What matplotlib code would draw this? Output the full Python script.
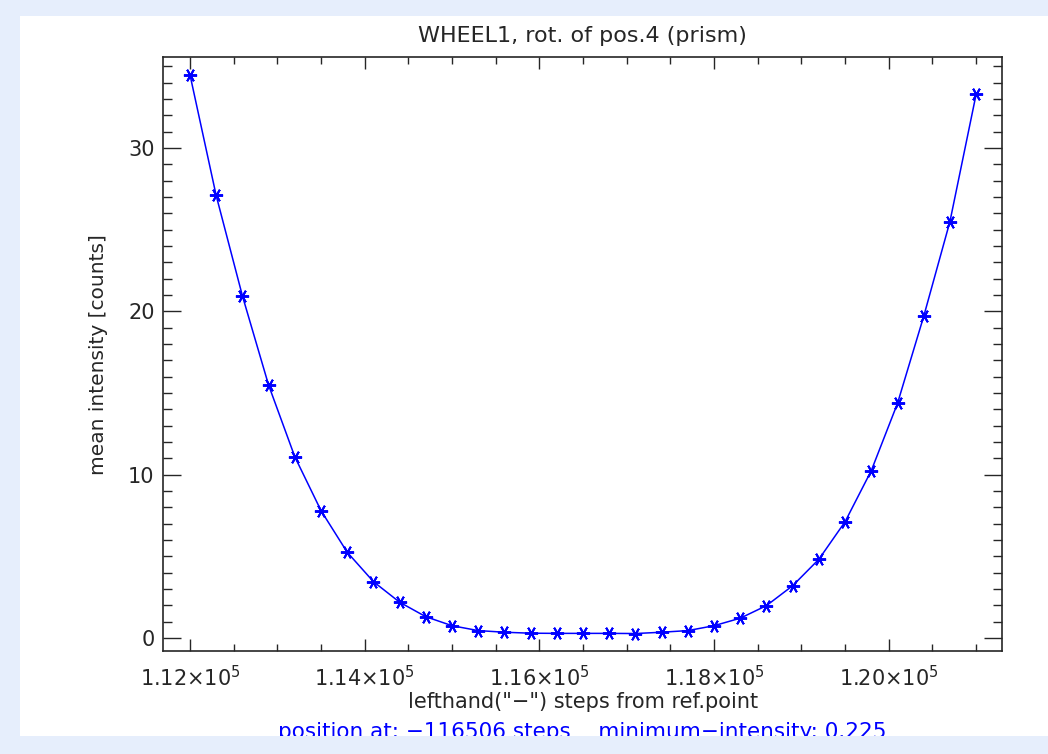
import numpy as np
import matplotlib
matplotlib.use('Agg')
import matplotlib.pyplot as plt
from matplotlib.patches import Rectangle
from matplotlib.ticker import MultipleLocator, FuncFormatter

# Schritte (lefthand) und mittlere Intensitaet
steps = [112000 + 300 * i for i in range(31)]
intensity = [34.5, 27.1, 20.96, 15.49, 11.10, 7.80, 5.25, 3.45, 2.19, 1.30,
             0.75, 0.45, 0.35, 0.29, 0.28, 0.28, 0.28, 0.27, 0.35, 0.45,
             0.75, 1.21, 1.98, 3.20, 4.82, 7.12, 10.25, 14.37, 19.7, 25.5, 33.3]

title = 'WHEEL1, rot. of pos.4 (prism)'
xlabel = 'lefthand("\u2212") steps from ref.point'
ylabel = 'mean intensity [counts]'
info = 'position at: \u2212116506 steps    minimum\u2212intensity: 0.225'

bg = '#e6eefc'
ink = '#262626'
blue = '#0000ff'

plt.rcParams['font.family'] = ['DejaVu Sans']
plt.rcParams['mathtext.fontset'] = 'dejavusans'

fig = plt.figure(figsize=(10.48, 7.54), dpi=100)
fig.patch.set_facecolor('white')

# hellblauer Rand um die weisse Flaeche
fig.patches.append(Rectangle((0, 0.9788), 1, 0.0212, transform=fig.transFigure,
                             facecolor=bg, edgecolor='none', zorder=10))
fig.patches.append(Rectangle((0, 0), 0.0191, 1, transform=fig.transFigure,
                             facecolor=bg, edgecolor='none', zorder=10))
fig.patches.append(Rectangle((0, 0), 1, 0.0245, transform=fig.transFigure,
                             facecolor=bg, edgecolor='none', zorder=10))

ax = fig.add_axes([0.1555, 0.1366, 0.8006, 0.7878])
ax.plot(steps, intensity, color=blue, lw=1.1, marker=(6, 2, 90),
        markersize=9.5, markeredgewidth=1.4, markeredgecolor=blue)

ax.set_xlim(111691, 121296)
ax.set_ylim(-0.80, 35.58)

ax.xaxis.set_major_locator(MultipleLocator(2000))
ax.xaxis.set_minor_locator(MultipleLocator(500))
ax.yaxis.set_major_locator(MultipleLocator(10))
ax.yaxis.set_minor_locator(MultipleLocator(1))
ax.xaxis.set_major_formatter(FuncFormatter(lambda v, p: '%.2f\u00d710$^{5}$' % (v / 1e5)))
ax.yaxis.set_major_formatter(FuncFormatter(lambda v, p: '%d' % v))

ax.tick_params(which='both', direction='in', top=True, right=True,
               color=ink, width=1.0, labelcolor=ink, labelsize=15)
ax.tick_params(axis='x', which='major', length=8.5, pad=10)
ax.tick_params(axis='x', which='minor', length=5)
ax.tick_params(axis='y', which='major', length=13, pad=6)
ax.tick_params(axis='y', which='minor', length=6.5)
for s in ax.spines.values():
    s.set_color(ink)
    s.set_linewidth(1.2)

fig.text(0.556, 0.952, title, ha='center', va='center', fontsize=16, color=ink)
fig.text(0.556, 0.069, xlabel, ha='center', va='center', fontsize=15, color=ink)
fig.text(0.094, 0.530, ylabel, ha='center', va='center', rotation=90,
         fontsize=14.5, color=ink)
fig.text(0.556, 0.029, info, ha='center', va='center', fontsize=15.5,
         color=blue, zorder=1)

fig.savefig('out.png', dpi=100)
